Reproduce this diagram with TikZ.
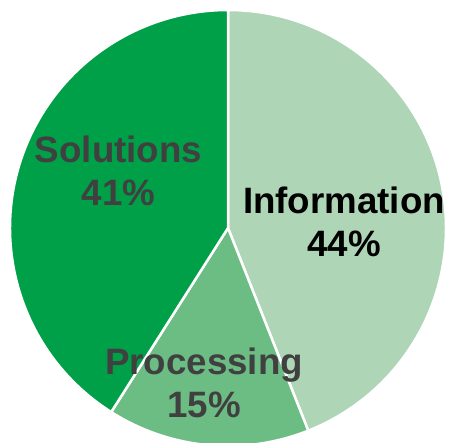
\documentclass[tikz,border=0pt]{standalone}
\usepackage{fontspec}
\setmainfont{Liberation Sans}
\usetikzlibrary{positioning}
\definecolor{solgreen}{RGB}{0,160,72}
\definecolor{procgreen}{RGB}{108,189,131}
\definecolor{infogreen}{RGB}{174,213,182}
\definecolor{labelgray}{RGB}{64,64,64}

\begin{document}
\begin{tikzpicture}[x=1pt,y=1pt,
      slice/.style={draw=white, line width=2.5pt, line join=miter},
      label/.style={draw=none, fill=none, align=center, inner sep=0pt,
         font=\fontsize{36.7}{43}\selectfont\bfseries, text=labelgray}
   ]
      \useasboundingbox (0,0) rectangle (449,442);
      \clip (0,0) rectangle (449,442);
      \coordinate (O) at (228,214);

      \path[slice, fill=infogreen] (O) -- ++(90:218) arc[start angle=90, end angle=-68.4, radius=218] -- cycle;
      \path[slice, fill=procgreen] (O) -- ++(-68.4:218) arc[start angle=-68.4, end angle=-122.4, radius=218] -- cycle;
      \path[slice, fill=solgreen] (O) -- ++(-122.4:218) arc[start angle=-122.4, end angle=-270, radius=218] -- cycle;

      \node[label] (Sol) at (118.5,271.5) {Solutions\\41\%};
      \node[label, text=black] (Info) at (344,220) {Information\\44\%};
      \node[label] (Proc) at (204,59.5) {Processing\\15\%};
   \end{tikzpicture}
\end{document}
